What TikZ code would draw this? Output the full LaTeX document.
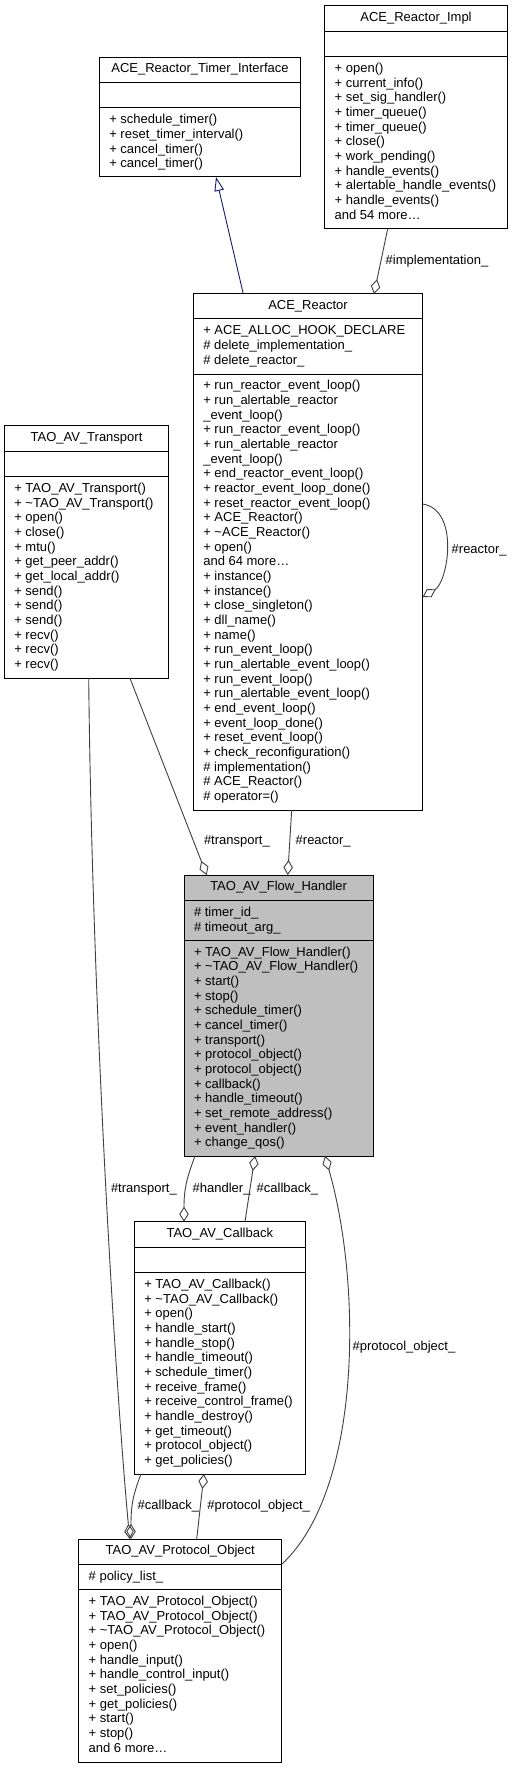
\documentclass[tikz,border=0pt]{standalone}
\usepackage{fontspec}
\setmainfont{Liberation Sans}
\usetikzlibrary{arrows.meta}
\definecolor{edgegray}{HTML}{404040}
\definecolor{inhblue}{HTML}{191970}
\definecolor{fhfill}{HTML}{BFBFBF}
\tikzset{
 txt/.style={inner sep=0pt, outer sep=0pt, font=\fontsize{13}{14.67}\selectfont, text=black},
 cls/.style={draw=black, line width=1pt, rectangle, inner sep=0pt, outer sep=0pt},
 sepline/.style={draw=black, line width=1pt},
 agg/.style={draw=edgegray, line width=0.9pt, -{Diamond[open, length=15pt, width=9.5pt]}},
 inh/.style={draw=inhblue, line width=0.9pt, -{Triangle[open, length=14pt, width=9.5pt]}},
 lbl/.style={txt, anchor=west},
}
\newcommand{\umlbox}[9]{% name, x, y, W, H, sep1, sep2, fill, title
  \node[cls, fill=#8, anchor=north west, minimum width=#4pt, minimum height=#5pt] (#1) at (#2,#3) {};
  \draw[sepline] ([yshift=-#6pt]#1.north west) -- ([yshift=-#6pt]#1.north east);
  \draw[sepline] ([yshift=-#7pt]#1.north west) -- ([yshift=-#7pt]#1.north east);
  \node[txt, anchor=base] (#1-title) at ([yshift=-15.7pt]#1.north) {#9};
}
\newcommand{\umllines}[4]{% name, tag, first baseline offset, list
  \foreach \t [count=\i, evaluate=\i as \yy using {#3+(\i-1)*14.67}] in {#4}
    \node[txt, anchor=base west] (#1-#2\i) at ([xshift=10pt, yshift=-\yy pt]#1.north west) {\t};
}
\begin{document}
\begin{tikzpicture}[x=1pt, y=-1pt]
\fill[white] (0,0) rectangle (512,1768);
\useasboundingbox (0,0) rectangle (512,1768);

% ACE_Reactor_Timer_Interface
\umlbox{tif}{99.3}{57.3}{201.4}{119.7}{25}{50.7}{white}{ACE\_Reactor\_Timer\_Interface}
\umllines{tif}{m}{66.4}{+ schedule\_timer(), + reset\_timer\_interval(), + cancel\_timer(), + cancel\_timer()}

% ACE_Reactor_Impl
\umlbox{impl}{324.7}{5.7}{182.6}{223}{25.6}{51}{white}{ACE\_Reactor\_Impl}
\umllines{impl}{m}{66.7}{+ open(), + current\_info(), + set\_sig\_handler(), + timer\_queue(), + timer\_queue(), + close(), + work\_pending(), + handle\_events(), + alertable\_handle\_events(), + handle\_events(), and 54 more\ldots}

% ACE_Reactor
\umlbox{reactor}{193.3}{294}{229.4}{516}{25}{80}{white}{ACE\_Reactor}
\umllines{reactor}{a}{40.7}{+ ACE\_ALLOC\_HOOK\_DECLARE, \# delete\_implementation\_, \# delete\_reactor\_}
\umllines{reactor}{m}{95.7}{+ run\_reactor\_event\_loop(), + run\_alertable\_reactor, \_event\_loop(), + run\_reactor\_event\_loop(), + run\_alertable\_reactor, \_event\_loop(), + end\_reactor\_event\_loop(), + reactor\_event\_loop\_done(), + reset\_reactor\_event\_loop(), + ACE\_Reactor(), + \textasciitilde ACE\_Reactor(), + open(), and 64 more\ldots, + instance(), + instance(), + close\_singleton(), + dll\_name(), + name(), + run\_event\_loop(), + run\_alertable\_event\_loop(), + run\_event\_loop(), + run\_alertable\_event\_loop(), + end\_event\_loop(), + event\_loop\_done(), + reset\_event\_loop(), + check\_reconfiguration(), \# implementation(), \# ACE\_Reactor(), \# operator=()}

% TAO_AV_Transport
\umlbox{transport}{4.3}{425.7}{164.4}{252.6}{25.6}{51}{white}{TAO\_AV\_Transport}
\umllines{transport}{m}{66.7}{+ TAO\_AV\_Transport(), + \textasciitilde TAO\_AV\_Transport(), + open(), + close(), + mtu(), + get\_peer\_addr(), + get\_local\_addr(), + send(), + send(), + send(), + recv(), + recv(), + recv()}

% TAO_AV_Flow_Handler
\umlbox{fh}{184}{875}{189.3}{281}{25.7}{65.3}{fhfill}{TAO\_AV\_Flow\_Handler}
\umllines{fh}{a}{41.4}{\# timer\_id\_, \# timeout\_arg\_}
\umllines{fh}{m}{81}{+ TAO\_AV\_Flow\_Handler(), + \textasciitilde TAO\_AV\_Flow\_Handler(), + start(), + stop(), + schedule\_timer(), + cancel\_timer(), + transport(), + protocol\_object(), + protocol\_object(), + callback(), + handle\_timeout(), + set\_remote\_address(), + event\_handler(), + change\_qos()}

% TAO_AV_Callback
\umlbox{cb}{134.3}{1221.7}{171}{252.3}{25.6}{51}{white}{TAO\_AV\_Callback}
\umllines{cb}{m}{66.7}{+ TAO\_AV\_Callback(), + \textasciitilde TAO\_AV\_Callback(), + open(), + handle\_start(), + handle\_stop(), + handle\_timeout(), + schedule\_timer(), + receive\_frame(), + receive\_control\_frame(), + handle\_destroy(), + get\_timeout(), + protocol\_object(), + get\_policies()}

% TAO_AV_Protocol_Object
\umlbox{po}{78.7}{1539}{203}{223.3}{25.3}{50.7}{white}{TAO\_AV\_Protocol\_Object}
\umllines{po}{a}{41}{\# policy\_list\_}
\umllines{po}{m}{66.4}{+ TAO\_AV\_Protocol\_Object(), + TAO\_AV\_Protocol\_Object(), + \textasciitilde TAO\_AV\_Protocol\_Object(), + open(), + handle\_input(), + handle\_control\_input(), + set\_policies(), + get\_policies(), + start(), + stop(), and 6 more\ldots}

% connectors
\draw[inh] ([xshift=50pt]reactor.north west) -- ([xshift=116.7pt]tif.south west);
\draw[agg] ([xshift=63pt]impl.south west) -- ([xshift=180.7pt]reactor.north west);
\draw[agg] ([yshift=-210pt]reactor.north east) .. controls (460,510) and (448,582) .. ([yshift=-303pt]reactor.north east);
\draw[agg] ([xshift=125.7pt]transport.south west) -- ([xshift=22.7pt]fh.north west);
\draw[agg] ([xshift=98.4pt]reactor.south west) -- ([xshift=103.7pt]fh.north west);
\draw[agg] ([xshift=84.4pt]transport.south west) .. controls (92,1000) and (115,1380) .. ([xshift=51pt]po.north west);
\draw[agg] ([xshift=11pt]fh.south west) .. controls (186,1180) and (184,1190) .. ([xshift=49.7pt]cb.north west);
\draw[agg] ([xshift=110.7pt]cb.north west) -- ([xshift=71pt]fh.south west);
\draw[agg] ([yshift=-25.3pt]po.north east) .. controls (362,1490) and (362,1285) .. ([xshift=141pt]fh.south west);
\draw[agg] ([xshift=6.7pt]cb.south west) .. controls (133,1495) and (131,1505) .. ([xshift=52.3pt]po.north west);
\draw[agg] ([xshift=118pt]po.north west) -- ([xshift=69.7pt]cb.south west);

% labels
\node[lbl] (l-impl) at (385.7,260.7) {\#implementation\_};
\node[lbl] (l-reac1) at (451.7,550.7) {\#reactor\_};
\node[lbl] (l-trans1) at (204,841.7) {\#transport\_};
\node[lbl] (l-reac2) at (295.7,841.7) {\#reactor\_};
\node[lbl] (l-trans2) at (111,1189) {\#transport\_};
\node[lbl] (l-hand) at (192.7,1189) {\#handler\_};
\node[lbl] (l-cb1) at (256.7,1189) {\#callback\_};
\node[lbl] (l-po1) at (352.7,1346.7) {\#protocol\_object\_};
\node[lbl] (l-cb2) at (137.7,1505.7) {\#callback\_};
\node[lbl] (l-po2) at (207.3,1505.7) {\#protocol\_object\_};
\end{tikzpicture}
\end{document}
